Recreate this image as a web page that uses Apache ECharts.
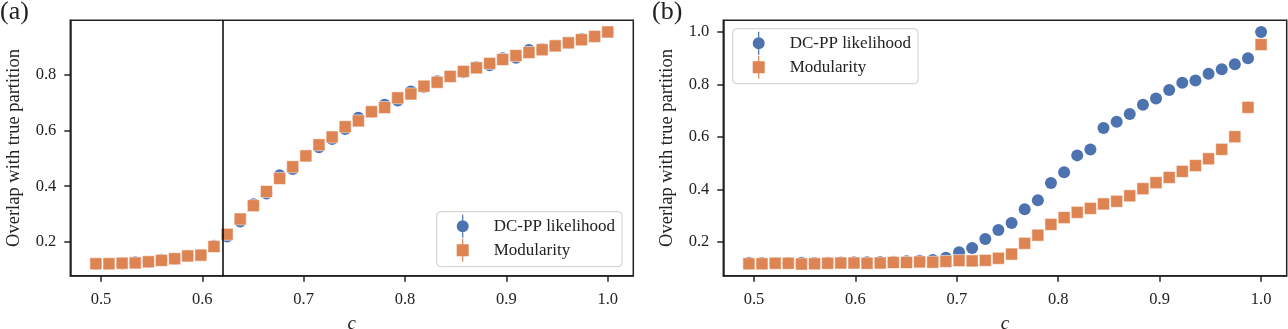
<!DOCTYPE html>
<html><head><meta charset="utf-8">
<script src="https://cdn.jsdelivr.net/npm/echarts@6/dist/echarts.min.js"></script>
<style>html,body{margin:0;padding:0;background:#fff}#chart{width:1288px;height:329px}</style>
</head><body><div id="chart"></div>
<script>
const cValues = [0.495, 0.5079, 0.5209, 0.5338, 0.5468, 0.5597, 0.5727, 0.5856, 0.5986, 0.6115,
  0.6245, 0.6374, 0.6504, 0.6633, 0.6763, 0.6892, 0.7022, 0.7151, 0.7281, 0.7410,
  0.7540, 0.7669, 0.7799, 0.7928, 0.8058, 0.8187, 0.8317, 0.8446, 0.8576, 0.8705,
  0.8835, 0.8964, 0.9094, 0.9223, 0.9353, 0.9482, 0.9612, 0.9741, 0.9871, 1.0];
const dcppA = [0.121, 0.121, 0.122, 0.126, 0.128, 0.135, 0.139, 0.150, 0.152, 0.186,
  0.219, 0.273, 0.335, 0.374, 0.439, 0.462, 0.509, 0.540, 0.570, 0.606,
  0.646, 0.668, 0.693, 0.708, 0.741, 0.757, 0.778, 0.795, 0.810, 0.828,
  0.835, 0.860, 0.862, 0.890, 0.893, 0.905, 0.916, 0.930, 0.939, 0.955];
const modA = [0.121, 0.121, 0.123, 0.124, 0.128, 0.133, 0.139, 0.149, 0.152, 0.183,
  0.227, 0.282, 0.330, 0.381, 0.428, 0.470, 0.509, 0.549, 0.577, 0.614,
  0.635, 0.668, 0.683, 0.718, 0.732, 0.760, 0.774, 0.795, 0.813, 0.826,
  0.842, 0.856, 0.870, 0.881, 0.891, 0.905, 0.916, 0.927, 0.939, 0.955];
const dcppB = [0.121, 0.120, 0.119, 0.120, 0.121, 0.120, 0.121, 0.122, 0.123, 0.123,
  0.124, 0.125, 0.127, 0.129, 0.131, 0.140, 0.161, 0.177, 0.211, 0.246,
  0.272, 0.325, 0.359, 0.425, 0.466, 0.530, 0.552, 0.634, 0.658, 0.688,
  0.723, 0.747, 0.779, 0.807, 0.815, 0.841, 0.858, 0.877, 0.900, 1.000];
const modB = [0.117, 0.117, 0.119, 0.119, 0.116, 0.117, 0.119, 0.120, 0.120, 0.119,
  0.120, 0.122, 0.122, 0.124, 0.123, 0.126, 0.129, 0.128, 0.130, 0.138,
  0.154, 0.195, 0.226, 0.267, 0.293, 0.313, 0.328, 0.345, 0.355, 0.376,
  0.403, 0.426, 0.446, 0.469, 0.491, 0.517, 0.553, 0.601, 0.713, 0.952];
const xTicks = [0.5, 0.6, 0.7, 0.8, 0.9, 1.0];
const yTicksA = [0.2, 0.4, 0.6, 0.8];
const yTicksB = [0.2, 0.4, 0.6, 0.8, 1.0];
const threshold = 0.6194;
const panelLabels = ['(a)', '(b)'];
const seriesNames = ['DC-PP likelihood', 'Modularity'];
const xTitle = 'c';
const yTitle = 'Overlap with true partition';

const FONT = '"Liberation Serif", "DejaVu Serif", serif';
const BLUE = '#4C72B0', ORANGE = '#DD8452', INK = '#222222';
const circleIcon = 'path://M5.4 0 H6.6 V23 H5.4 Z M6 5.5 A6 6 0 1 1 5.99 5.5 Z';
const squareIcon = 'path://M5.4 0 H6.6 V23 H5.4 Z M0 5.5 H12 V17.5 H0 Z';

const pairs = (ys) => cValues.map((c, i) => [c, ys[i]]);

function xAxisFor(gi) {
  return {
    type: 'value', gridIndex: gi, min: 0.46975, max: 1.02525,
    name: xTitle, nameLocation: 'middle', nameGap: 39,
    nameTextStyle: { fontFamily: FONT, fontSize: 19, fontStyle: 'italic', color: INK },
    axisLine: { show: true, lineStyle: { color: INK, width: 1.5 } },
    axisTick: { show: true, length: 6, lineStyle: { color: INK, width: 1.5 }, customValues: xTicks },
    axisLabel: { customValues: xTicks, formatter: v => v.toFixed(1), margin: 15,
      fontFamily: FONT, fontSize: 16.5, color: INK },
    splitLine: { show: false }
  };
}
function yAxisFor(gi, min, max, ticks) {
  return {
    type: 'value', gridIndex: gi, min: min, max: max,
    name: yTitle, nameLocation: 'middle', nameGap: 47, nameRotate: 90,
    nameTextStyle: { fontFamily: FONT, fontSize: 18.5, color: INK },
    axisLine: { show: true, lineStyle: { color: INK, width: 1.5 } },
    axisTick: { show: true, length: 6, lineStyle: { color: INK, width: 1.5 }, customValues: ticks },
    axisLabel: { customValues: ticks, formatter: v => v.toFixed(1), margin: 14,
      fontFamily: FONT, fontSize: 16.5, color: INK },
    splitLine: { show: false }
  };
}
function scatter(name, gi, ys, color, symbol, extra) {
  return Object.assign({
    type: 'scatter', name: name, xAxisIndex: gi, yAxisIndex: gi,
    data: pairs(ys), symbol: symbol, symbolSize: 12,
    itemStyle: symbol === 'rect'
      ? { color: color, borderColor: 'rgba(255,255,255,0.55)', borderWidth: 1, opacity: 1 }
      : { color: color, opacity: 1 },
    silent: true
  }, extra || {});
}
function legendFor(left, top) {
  return {
    orient: 'vertical', left: left, top: top,
    data: [
      { name: seriesNames[0], icon: circleIcon, itemStyle: { color: BLUE, opacity: 1, borderWidth: 0 } },
      { name: seriesNames[1], icon: squareIcon, itemStyle: { color: ORANGE, opacity: 1, borderWidth: 0 } }
    ],
    itemWidth: 12, itemHeight: 23, itemGap: 1,
    padding: [3, 7, 5, 20],
    backgroundColor: 'rgba(255,255,255,0.8)', borderColor: '#cccccc', borderWidth: 1, borderRadius: 4,
    textStyle: { fontFamily: FONT, fontSize: 17, color: INK, padding: [0, 0, 0, 20] },
    selectedMode: false
  };
}
const gridBase = { show: true, borderColor: INK, borderWidth: 1.5, backgroundColor: 'transparent',
  containLabel: false, outerBoundsMode: 'none' };

const chart = echarts.init(document.getElementById('chart'), null, { renderer: 'canvas' });
chart.setOption({
  animation: false,
  backgroundColor: '#ffffff',
  grid: [
    Object.assign({ left: 70.3, top: 20.3, width: 563, height: 255.4 }, gridBase),
    Object.assign({ left: 723.3, top: 20.3, width: 563.4, height: 255.4 }, gridBase)
  ],
  xAxis: [xAxisFor(0), xAxisFor(1)],
  yAxis: [yAxisFor(0, 0.078, 0.997, yTicksA), yAxisFor(1, 0.0716, 1.0446, yTicksB)],
  legend: [legendFor(436.7, 211.7), legendFor(732.7, 28.7)],
  series: [
    scatter(seriesNames[0], 0, dcppA, BLUE, 'circle', {
      markLine: { silent: true, symbol: 'none', label: { show: false },
        lineStyle: { color: '#000', width: 1.5, type: 'solid' },
        data: [{ xAxis: threshold }] }
    }),
    scatter(seriesNames[1], 0, modA, ORANGE, 'rect'),
    scatter(seriesNames[0], 1, dcppB, BLUE, 'circle'),
    scatter(seriesNames[1], 1, modB, ORANGE, 'rect')
  ],
  graphic: [
    { type: 'text', left: 0, top: -1, style: { text: panelLabels[0], fontFamily: FONT, fontSize: 26, fill: INK } },
    { type: 'text', left: 652, top: -1, style: { text: panelLabels[1], fontFamily: FONT, fontSize: 26, fill: INK } }
  ]
});
</script></body></html>
